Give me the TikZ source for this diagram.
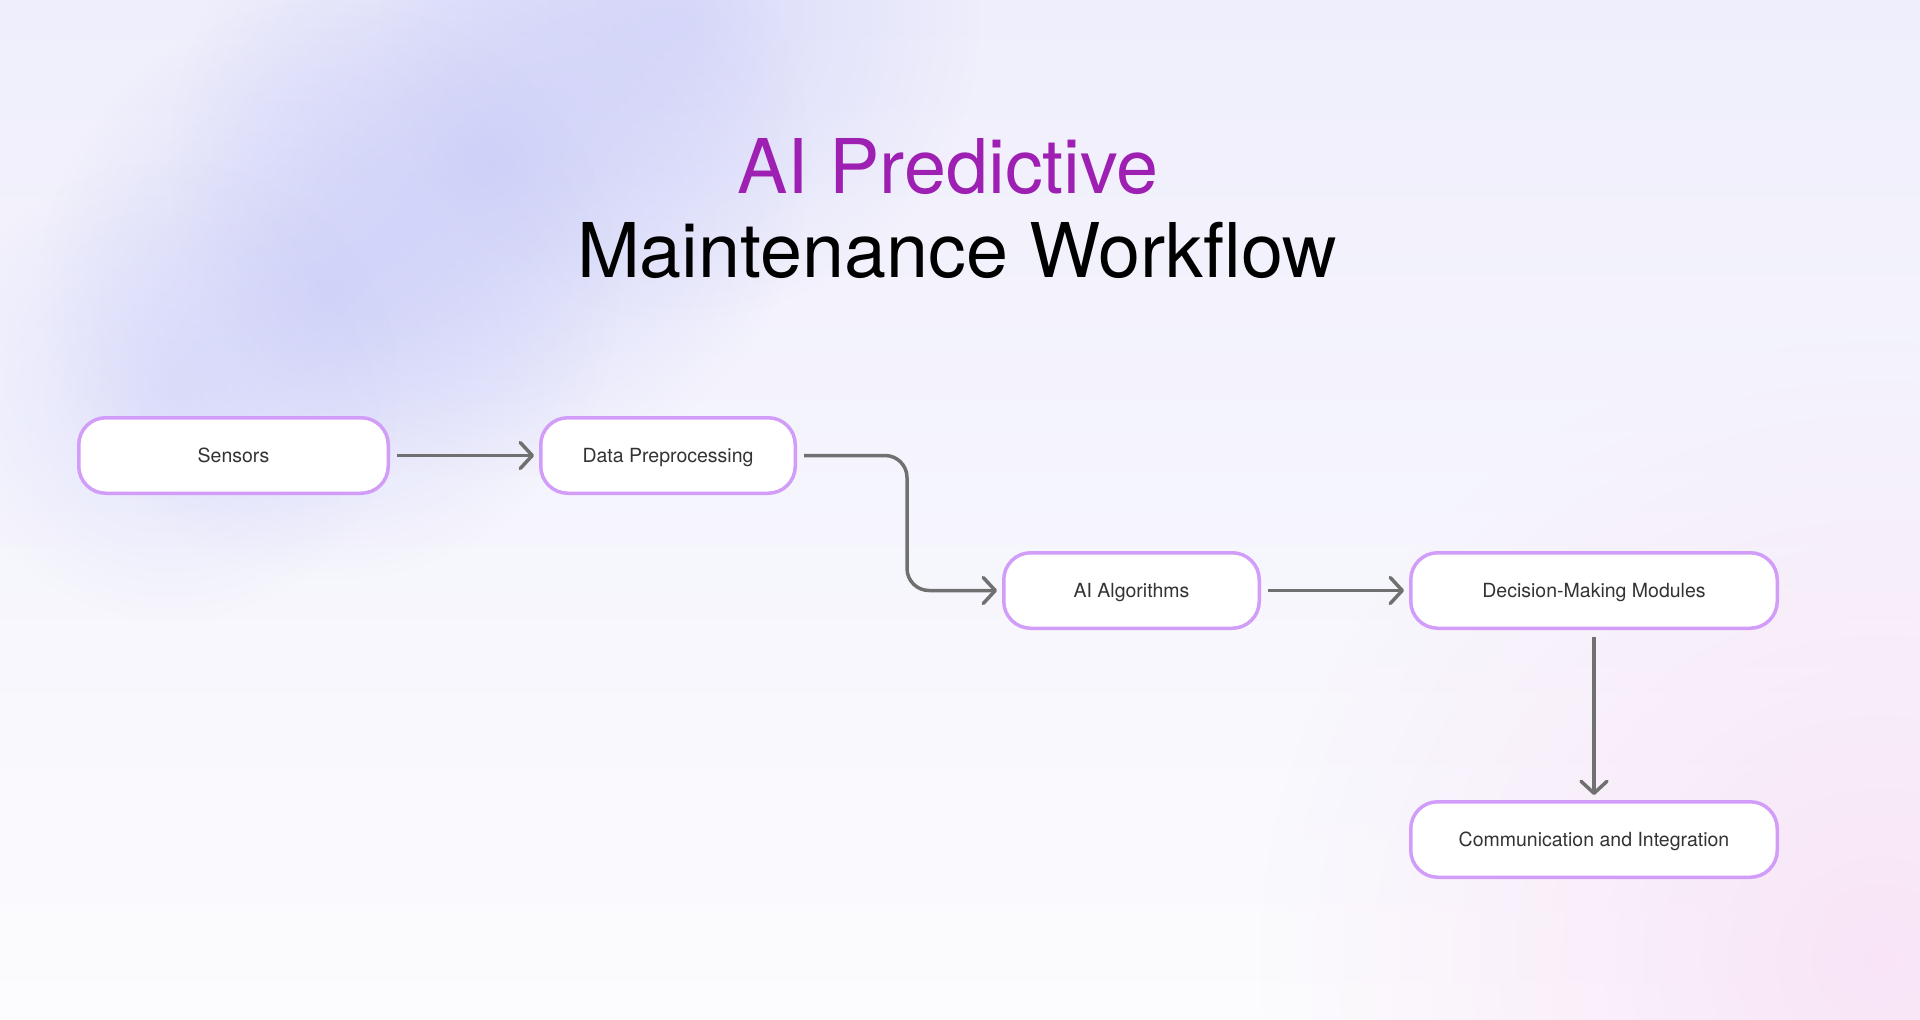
\documentclass[tikz,border=0pt]{standalone}
\usepackage{fontspec}
\setmainfont{TeX Gyre Heros}
\usetikzlibrary{arrows.meta,fadings,calc}
\tikzfading[name=softfade, inner color=transparent!0, outer color=transparent!100]
\definecolor{boxline}{HTML}{D29DF8}
\definecolor{conncol}{HTML}{707070}
\definecolor{boxtext}{HTML}{333333}
\definecolor{titlepurple}{HTML}{9D20B3}
\definecolor{bgtop}{HTML}{EFEEFC}
\definecolor{bgbot}{HTML}{FCFCFE}
\definecolor{blobcol}{HTML}{C3C7F8}
\definecolor{pinkcol}{HTML}{F8E2F6}
\tikzset{
  stepbox/.style={draw=boxline, line width=3.5pt, fill=white, rounded corners=27pt,
    minimum height=75.5pt, inner sep=0pt, text=boxtext,
    text height=14pt, text depth=0pt,
    font=\fontsize{19.5}{23}\selectfont},
  conn/.style={draw=conncol, line width=3.5pt,
    -{Straight Barb[length=12pt,width=26pt,round]},
    shorten <=7pt, shorten >=5pt},
  titlefont/.style={font=\fontsize{75.5}{82}\selectfont, inner sep=0pt, anchor=base},
  blob/.style={fill=blobcol, path fading=softfade}
}
\begin{document}
\begin{tikzpicture}[x=1pt,y=-1pt]
\useasboundingbox (0,0) rectangle (1920,1020);
% background
\shade[top color=bgtop, bottom color=bgbot] (0,0) rectangle (1920,1020);
\begin{scope}
\clip (0,0) rectangle (1920,1020);
\fill[blob, fill opacity=0.5] (680,20) circle (300);
\fill[blob, fill opacity=0.65] (490,160) circle (320);
\fill[blob, fill opacity=0.6] (330,290) circle (290);
\fill[blob, fill opacity=0.4] (170,390) circle (230);
\fill[fill=pinkcol, path fading=softfade, fill opacity=0.9] (1880,960) circle (620);
\end{scope}
% title
\node[titlefont, text=titlepurple] (t1) at (948,193) {AI Predictive};
\node[titlefont, text=black] (t2) at (957,277) {Maintenance Workflow};
% boxes
\node[stepbox, minimum width=309.5pt] (sens) at (233.5,455.5) {Sensors};
\node[stepbox, minimum width=254.5pt] (dp) at (668,455.5) {Data Preprocessing};
\node[stepbox, minimum width=255.5pt] (ai) at (1131.5,590.5) {AI Algorithms};
\node[stepbox, minimum width=366.5pt] (dm) at (1594,590.5) {Decision-Making Modules};
\node[stepbox, minimum width=366.5pt] (comm) at (1594,839.5) {Communication and Integration};
\coordinate (bendx) at (907,500);
% connectors
\draw[conn] (sens.east) -- (dp.west);
\draw[conn, rounded corners=22pt] (dp.east) -- (dp.east -| bendx) -- (bendx |- ai.west) -- (ai.west);
\draw[conn] (ai.east) -- (dm.west);
\draw[conn] (dm.south) -- (comm.north);
\end{tikzpicture}
\end{document}
